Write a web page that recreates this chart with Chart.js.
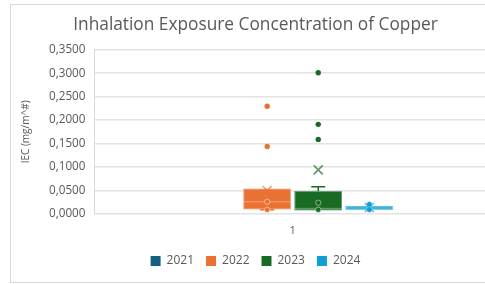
<!DOCTYPE html>
<html>
<head>
<meta charset="utf-8">
<script src="https://cdn.jsdelivr.net/npm/chart.js@4.4.1/dist/chart.umd.min.js"></script>
<style>
  html, body { margin: 0; padding: 0; background: #fff; overflow: hidden; }
  #frame { position: absolute; left: 10px; top: 4px; width: 500px; height: 279px; border: 1px solid #d9d9d9; box-sizing: border-box; }
</style>
</head>
<body>
<div id="frame"><canvas id="myChart"></canvas></div>
<script>
// chart data
var categories = ['1'];
var years = ['2021', '2022', '2023', '2024'];
var colors = ['#156082', '#E97132', '#196B24', '#0F9ED5'];
var q1 = [null, 0.010, 0.008, 0.009];
var q3 = [null, 0.054, 0.049, 0.017];
var median = [null, 0.026, 0.012, 0.013];
var mean = [null, 0.050, 0.094, 0.014];
var whiskerLow = [null, 0.009, 0.008, 0.009];
var whiskerHigh = [null, 0.054, 0.058, 0.017];
var innerPoints = [[], [0.026, 0.009], [0.024, 0.009], [0.021, 0.009]];
var outliers = [[], [0.2296, 0.1437], [0.301, 0.191, 0.159], []];
var yTicks = [0, 0.05, 0.10, 0.15, 0.20, 0.25, 0.30, 0.35];

var grey = '#595959';

var datasets = [];
for (var i = 0; i < years.length; i++) {
  datasets.push({
    label: years[i],
    data: [q1[i] === null ? null : [q1[i], q3[i]]],
    backgroundColor: colors[i],
    borderColor: colors[i],
    borderWidth: 0,
    borderSkipped: false,
    categoryPercentage: 0.515,
    barPercentage: 0.93
  });
}

// draws medians, whiskers, means and points on top of the bars
var boxExtras = {
  id: 'boxExtras',
  afterDatasetsDraw: function(chart) {
    var ctx = chart.ctx;
    var y = chart.scales.y;
    for (var i = 0; i < years.length; i++) {
      if (q1[i] === null) continue;
      var bar = chart.getDatasetMeta(i).data[0];
      var x = bar.x, w = bar.width;
      ctx.save();
      ctx.strokeStyle = 'rgba(255,255,255,0.35)';
      ctx.lineWidth = 1;
      ctx.strokeRect(x - w / 2 + 0.5, y.getPixelForValue(q3[i]) + 0.5, w - 1, y.getPixelForValue(q1[i]) - y.getPixelForValue(q3[i]) - 1);
      // median
      ctx.beginPath();
      ctx.moveTo(x - w / 2, y.getPixelForValue(median[i]));
      ctx.lineTo(x + w / 2, y.getPixelForValue(median[i]));
      ctx.stroke();
      // whiskers
      ctx.strokeStyle = colors[i];
      ctx.lineWidth = 1.5;
      var cap = 7;
      if (whiskerHigh[i] > q3[i]) {
        ctx.beginPath();
        ctx.moveTo(x, y.getPixelForValue(q3[i]));
        ctx.lineTo(x, y.getPixelForValue(whiskerHigh[i]));
        ctx.moveTo(x - cap, y.getPixelForValue(whiskerHigh[i]));
        ctx.lineTo(x + cap, y.getPixelForValue(whiskerHigh[i]));
        ctx.stroke();
      }
      if (whiskerLow[i] < q1[i]) {
        ctx.beginPath();
        ctx.moveTo(x, y.getPixelForValue(q1[i]));
        ctx.lineTo(x, y.getPixelForValue(whiskerLow[i]));
        ctx.moveTo(x - cap, y.getPixelForValue(whiskerLow[i]));
        ctx.lineTo(x + cap, y.getPixelForValue(whiskerLow[i]));
        ctx.stroke();
      }
      // inner points
      ctx.strokeStyle = 'rgba(255,255,255,0.45)';
      ctx.lineWidth = 1;
      innerPoints[i].forEach(function(v) {
        ctx.beginPath();
        ctx.arc(x, y.getPixelForValue(v), 2.7, 0, Math.PI * 2);
        ctx.fillStyle = colors[i];
        ctx.fill();
        ctx.stroke();
      });
      // outliers
      outliers[i].forEach(function(v) {
        ctx.beginPath();
        ctx.arc(x, y.getPixelForValue(v), 2.7, 0, Math.PI * 2);
        ctx.fillStyle = colors[i];
        ctx.fill();
      });
      // mean marker
      var my = y.getPixelForValue(mean[i]);
      var s = 4.5;
      ctx.strokeStyle = colors[i];
      ctx.globalAlpha = 0.7;
      ctx.lineWidth = 1.5;
      ctx.beginPath();
      ctx.moveTo(x - s, my - s); ctx.lineTo(x + s, my + s);
      ctx.moveTo(x + s, my - s); ctx.lineTo(x - s, my + s);
      ctx.stroke();
      ctx.restore();
    }
  }
};

var ctx = document.getElementById('myChart').getContext('2d');
var chart = new Chart(ctx, {
  type: 'bar',
  data: {
    labels: categories,
    datasets: datasets
  },
  plugins: [boxExtras],
  options: {
    responsive: true,
    maintainAspectRatio: false,
    animation: false,
    layout: { padding: { left: 9, right: 18, top: 0, bottom: 5 } },
    plugins: {
      tooltip: { enabled: false },
      title: {
        display: true,
        text: 'Inhalation Exposure Concentration of Copper',
        color: grey,
        font: { family: 'Open Sans', size: 17.3, weight: 'normal' },
        padding: { top: 10, bottom: 14 }
      },
      legend: {
        position: 'bottom',
        labels: {
          color: grey,
          font: { family: 'Open Sans', size: 12, lineHeight: 1 },
          boxWidth: 10,
          boxHeight: 10,
          padding: 12
        }
      }
    },
    scales: {
      x: {
        grid: { display: false, drawTicks: false },
        border: { display: false },
        ticks: { color: grey, font: { family: 'Open Sans', size: 11, lineHeight: 1 }, padding: 11 },
        afterFit: function(scale) { scale.height -= 4; }
      },
      y: {
        min: 0,
        max: 0.35,
        afterBuildTicks: function(scale) {
          scale.ticks = yTicks.map(function(v) { return { value: v }; });
        },
        grid: { color: '#e3e3e3', lineWidth: 1.5, drawTicks: false },
        border: { display: true, color: '#d9d9d9', width: 1 },
        title: {
          display: true,
          text: 'IEC (mg/m^#)',
          color: grey,
          font: { family: 'Open Sans', size: 10 },
          padding: { top: 0, bottom: 8 }
        },
        ticks: {
          color: grey,
          font: { family: 'Open Sans', size: 11.7 },
          padding: 9,
          callback: function(value) { return value.toFixed(4).replace('.', ','); }
        }
      }
    }
  }
});
</script>
</body>
</html>
